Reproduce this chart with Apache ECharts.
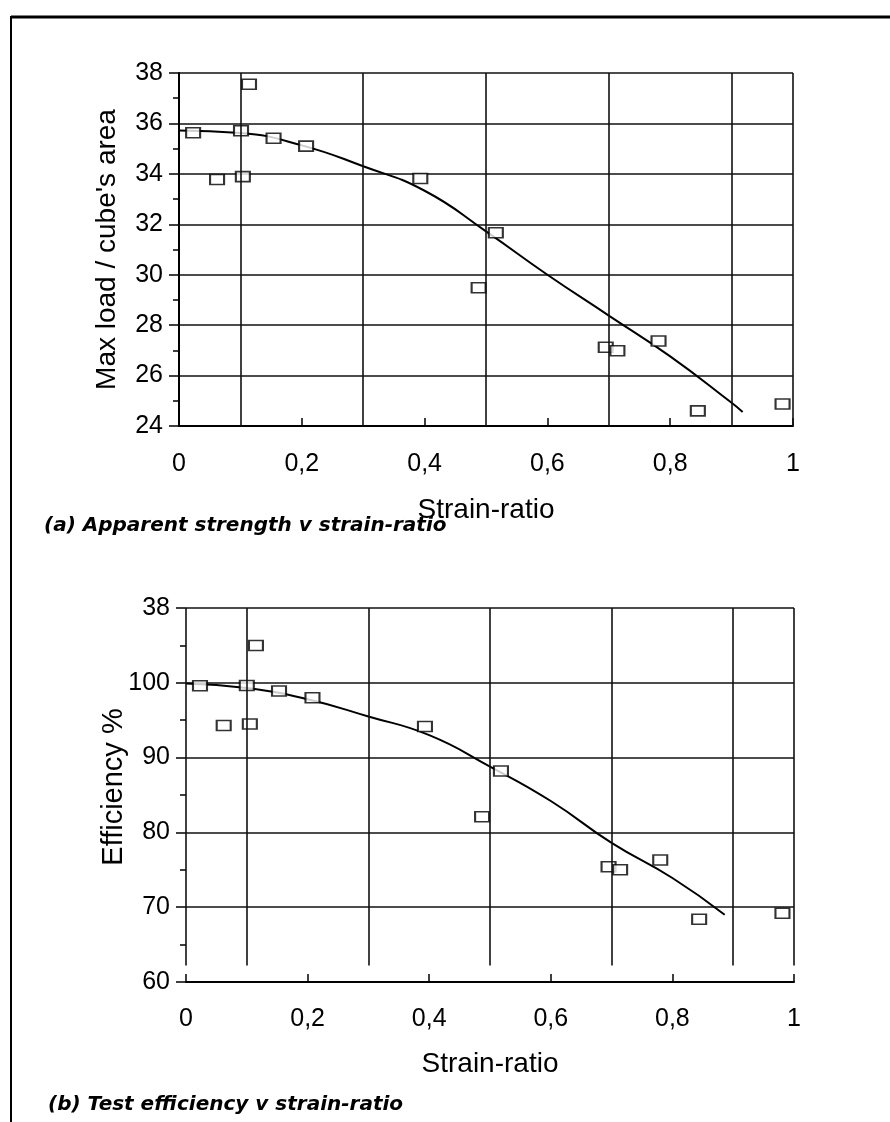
<!DOCTYPE html>
<html><head><meta charset="utf-8">
<script src="https://cdn.jsdelivr.net/npm/echarts@6/dist/echarts.min.js"></script>
<style>html,body{margin:0;padding:0;background:#fff}#c{width:890px;height:1122px}</style>
</head><body><div id="c"></div>
<script>
// ---- data (a) Apparent strength ----
const strainA = [0.023,0.101,0.114,0.154,0.207,0.062,0.104,0.393,0.516,0.488,0.695,0.714,0.781,0.845,0.983];
const loadA   = [35.63,35.71,37.55,35.41,35.10,33.78,33.89,33.82,31.66,29.48,27.12,26.98,27.37,24.60,24.87];
const fitAX = [0,0.1,0.2,0.3,0.4,0.5,0.6,0.7,0.8,0.9,0.918];
const fitAY = [35.72,35.62,35.13,34.3,33.33,31.72,30.0,28.38,26.76,24.92,24.56];
// ---- data (b) Test efficiency ----
const strainB = [0.023,0.100,0.115,0.153,0.208,0.062,0.105,0.393,0.518,0.487,0.695,0.714,0.780,0.844,0.981];
const effB    = [99.6,99.64,105.0,98.9,98.0,94.3,94.5,94.15,88.2,82.1,75.4,75.0,76.3,68.4,69.2];
const fitBX = [0,0.1,0.2,0.3,0.4,0.5,0.6,0.7,0.8,0.886];
const fitBY = [99.9,99.3,97.8,95.5,93.0,88.8,84.2,78.6,73.9,69.0];
// ---- tick labels ----
const xTickLabels = ['0','0,2','0,4','0,6','0,8','1'];
const yTickLabelsA = ['24','26','28','30','32','34','36','38'];
const yTickLabelsB = ['60','70','80','90','100','38'];
const vGridA = [0.1,0.3,0.5,0.7,0.9,1];
const vGridB = [0,0.1,0.3,0.5,0.7,0.9,1];
const vGridBTop = 110, vGridBBottom = 62.2;

const zip = (a,b) => a.map((v,i)=>[v,b[i]]);
const FONT = 'Liberation Sans';
const BLACK = '#000';

function xAxisCfg(gi, nameGap, margin){
  return {
    type:'value', gridIndex:gi, min:0, max:1, interval:0.2,
    name:'Strain-ratio', nameLocation:'middle', nameGap:nameGap,
    nameTextStyle:{fontFamily:FONT, fontSize:28, color:BLACK},
    axisLine:{show:true, onZero:false, lineStyle:{color:BLACK, width:2}},
    axisTick:{show:true, inside:true, length:8, lineStyle:{color:BLACK, width:1.5}},
    axisLabel:{fontFamily:FONT, fontSize:25, color:BLACK, margin:margin,
      formatter:v=>xTickLabels[Math.round(v/0.2)]},
    splitLine:{show:false}
  };
}
function yAxisCfg(gi, min, max, interval, labels, name, nameGap, showLine, nameSize, namePad){
  return {
    type:'value', gridIndex:gi, min:min, max:max, interval:interval,
    name:name, nameLocation:'middle', nameGap:nameGap, nameMoveOverlap:false,
    nameTextStyle:{fontFamily:FONT, fontSize:nameSize, color:BLACK, padding:namePad},
    axisLine:{show:showLine, onZero:false, lineStyle:{color:BLACK, width:2}},
    axisTick:{show:true, length:10, lineStyle:{color:BLACK, width:1.5}},
    minorTick:{show:true, splitNumber:2, length:6, lineStyle:{color:BLACK, width:1.5}},
    axisLabel:{fontFamily:FONT, fontSize:25, color:BLACK, margin:16,
      formatter:v=>labels[Math.round((v-min)/interval)]},
    splitLine:{show:true, lineStyle:{color:'#111', width:1.6}}
  };
}
const gridLineStyle = {color:'#111', width:1.6, type:'solid'};

const chart = echarts.init(document.getElementById('c'), null, {renderer:'canvas'});
chart.setOption({
  backgroundColor:'#fff',
  animation:false,
  title:[
    {text:'(a) Apparent strength v strain-ratio', left:39, top:511,
     textStyle:{fontFamily:'DejaVu Sans', fontStyle:'italic', fontWeight:'bold', fontSize:20, color:BLACK}},
    {text:'(b) Test efficiency v strain-ratio', left:43, top:1090,
     textStyle:{fontFamily:'DejaVu Sans', fontStyle:'italic', fontWeight:'bold', fontSize:20, color:BLACK}}
  ],
  graphic:[
    {type:'line', shape:{x1:11, y1:17, x2:890, y2:17}, style:{stroke:BLACK, lineWidth:3}},
    {type:'line', shape:{x1:11, y1:16, x2:11, y2:1122}, style:{stroke:BLACK, lineWidth:2}}
  ],
  grid:[
    {left:179, top:73, width:614, height:353},
    {left:186, top:608, width:608, height:374}
  ],
  xAxis:[ xAxisCfg(0, 70, 26), xAxisCfg(1, 68, 25) ],
  yAxis:[
    yAxisCfg(0, 24, 38, 2, yTickLabelsA, "Max load / cube's area", 58, true, 28, [0,0,0,0]),
    yAxisCfg(1, 60, 110, 10, yTickLabelsB, 'Efficiency %', 58, false, 29, [0,0,0,16])
  ],
  series:[
    {type:'line', xAxisIndex:0, yAxisIndex:0, data:zip(fitAX, fitAY), smooth:true,
     showSymbol:false, lineStyle:{color:BLACK, width:2}, z:3,
     markLine:{silent:true, symbol:'none', label:{show:false}, lineStyle:gridLineStyle,
       data:vGridA.map(v=>({xAxis:v}))}},
    {type:'scatter', xAxisIndex:0, yAxisIndex:0, data:zip(strainA, loadA),
     symbol:'rect', symbolSize:[14,10], z:4,
     itemStyle:{color:'#fff', borderColor:BLACK, borderWidth:1.8}},
    {type:'line', xAxisIndex:1, yAxisIndex:1, data:zip(fitBX, fitBY), smooth:true,
     showSymbol:false, lineStyle:{color:BLACK, width:2}, z:3,
     markLine:{silent:true, symbol:'none', label:{show:false}, lineStyle:gridLineStyle,
       data:vGridB.map(v=>[{coord:[v, vGridBTop]},{coord:[v, vGridBBottom]}])}},
    {type:'scatter', xAxisIndex:1, yAxisIndex:1, data:zip(strainB, effB),
     symbol:'rect', symbolSize:[14,10], z:4,
     itemStyle:{color:'#fff', borderColor:BLACK, borderWidth:1.8}}
  ]
});
</script></body></html>
